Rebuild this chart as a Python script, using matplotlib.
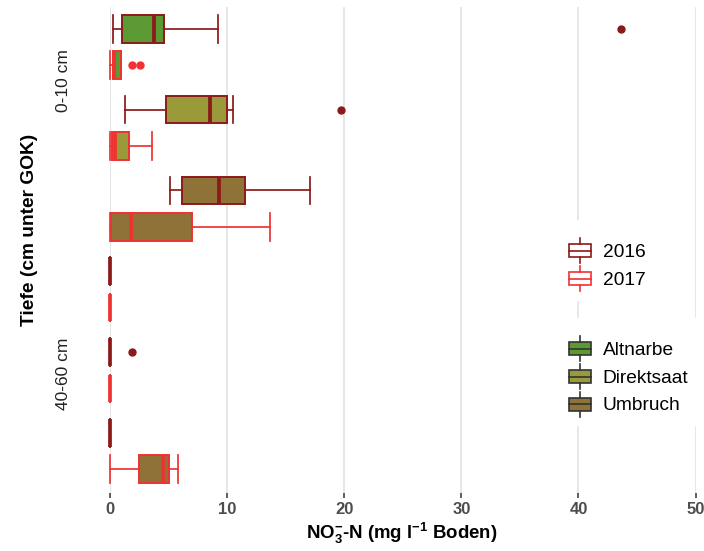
import matplotlib
matplotlib.use("Agg")
import matplotlib.pyplot as plt
from matplotlib.patches import Rectangle
from matplotlib.lines import Line2D
from matplotlib.legend_handler import HandlerBase

plt.rcParams['font.family'] = ['Liberation Sans', 'DejaVu Sans']
plt.rcParams['mathtext.fontset'] = 'custom'
plt.rcParams['mathtext.rm'] = 'Liberation Sans:bold'
plt.rcParams['mathtext.bf'] = 'Liberation Sans:bold'
plt.rcParams['mathtext.it'] = 'Liberation Sans:bold'

# ---- data ----
depths = ['0-10 cm', '40-60 cm']
treatments = ['Altnarbe', 'Direktsaat', 'Umbruch']
years = ['2016', '2017']

# order: depth -> treatment -> year
whislo = [0.26, 0.0, 1.26, 0.0, 5.10, 0.0, 0.0, 0.0, 0.0, 0.0, 0.0, 0.0]
q1 = [1.00, 0.20, 4.76, 0.14, 6.15, 0.09, 0.0, 0.0, 0.0, 0.0, 0.0, 2.45]
med = [3.70, 0.35, 8.52, 0.40, 9.32, 1.80, 0.0, 0.0, 0.0, 0.0, 0.0, 4.47]
q3 = [4.60, 0.90, 9.95, 1.62, 11.48, 6.98, 0.0, 0.0, 0.0, 0.0, 0.0, 5.02]
whishi = [9.20, 0.90, 10.46, 3.56, 17.10, 13.68, 0.0, 0.0, 0.0, 0.0, 0.0, 5.79]
fliers = [[43.6], [1.88, 2.54], [19.7], [], [], [],
          [], [], [1.83], [], [], []]

xticks = [0, 10, 20, 30, 40, 50]

fill_colors = {'Altnarbe': '#5B9A33', 'Direktsaat': '#9B9A3B', 'Umbruch': '#8F7238'}
edge_colors = {'2016': '#8B1A1A', '2017': '#F03232'}

fig = plt.figure(figsize=(7.04, 5.51), dpi=100)
ax = fig.add_axes([110.3 / 704, 58 / 551, 585.2 / 704, 486 / 551])

dodge = 0.225
box_h = 0.34
i = 0
for d_i, d in enumerate(depths):
    for t_i, t in enumerate(treatments):
        g = d_i * len(treatments) + t_i + 1
        for y_i, yr in enumerate(years):
            pos = g + (-dodge if y_i == 0 else dodge)
            stats = [dict(whislo=whislo[i], q1=q1[i], med=med[i], q3=q3[i],
                          whishi=whishi[i], fliers=fliers[i])]
            ec = edge_colors[yr]
            art = ax.bxp(stats, positions=[pos], widths=[box_h], capwidths=[box_h],
                         orientation='horizontal', patch_artist=True, showfliers=True,
                         boxprops=dict(facecolor=fill_colors[t], edgecolor=ec, linewidth=1.4),
                         medianprops=dict(color=ec, linewidth=2.7, solid_capstyle='butt'),
                         whiskerprops=dict(color=ec, linewidth=1.25),
                         capprops=dict(color=ec, linewidth=1.25),
                         flierprops=dict(marker='o', markerfacecolor=ec, markeredgecolor=ec,
                                         markersize=5, linestyle='none'),
                         manage_ticks=False)
            for key in art:
                for a in art[key]:
                    a.set_clip_on(False)
                    a.set_zorder(3)
            i += 1

ax.set_xlim(0, 50)
ax.set_ylim(6.52, 0.505)
ax.set_xticks(xticks)
ax.set_xticklabels([str(x) for x in xticks], fontsize=12, fontweight='bold', color='#4D4D4D')
ax.tick_params(axis='x', length=3.5, width=1.1, color='#333333', pad=3.0)
ax.set_yticks([1.41, 5.05])
ax.set_yticklabels(depths, rotation=90, fontsize=12.5, color='#222222', va='center')
ax.tick_params(axis='y', length=0, pad=28)
for s in ax.spines.values():
    s.set_visible(False)
ax.grid(axis='x', color='#E3E3E3', linewidth=1.2, zorder=0)
ax.set_axisbelow(True)

fig.text(402 / 704, 1 - 533 / 551,
         r'NO$_{\mathbf{3}}^{\mathbf{-}}$-N (mg l$^{\mathbf{-1}}$ Boden)',
         ha='center', va='center', fontsize=13.4, fontweight='bold')
fig.text(30 / 704, 1 - 230 / 551, 'Tiefe (cm unter GOK)', rotation=90,
         ha='center', va='center', fontsize=13.8, fontweight='bold')


class BoxHandler(HandlerBase):
    def __init__(self, face, edge):
        super().__init__()
        self.face = face
        self.edge = edge

    def create_artists(self, legend, orig_handle, xdescent, ydescent, width, height,
                       fontsize, trans):
        x0, y0 = -xdescent, -ydescent
        rb = y0 + height * 0.24
        rt = y0 + height * 0.76
        xc = x0 + width / 2
        rect = Rectangle((x0, rb), width, rt - rb, facecolor=self.face,
                         edgecolor=self.edge, linewidth=1.2, transform=trans)
        mid = Line2D([x0, x0 + width], [(rb + rt) / 2] * 2, color=self.edge,
                     linewidth=1.2, transform=trans)
        w1 = Line2D([xc, xc], [y0, rb], color=self.edge, linewidth=1.2, transform=trans)
        w2 = Line2D([xc, xc], [rt, y0 + height], color=self.edge, linewidth=1.2,
                    transform=trans)
        return [rect, mid, w1, w2]


fs_pt = 13.8
fs_px = fs_pt * 100 / 72
leg_kw = dict(fontsize=fs_pt, frameon=True, framealpha=1, edgecolor='white',
              fancybox=False, handlelength=22 / fs_px, handleheight=1.63,
              handletextpad=0.6, labelspacing=2.7 / fs_px, borderpad=0.45,
              borderaxespad=0, loc='upper left', title=' ', title_fontsize=6)

x_anchor = (569 - 0.45 * fs_px) / 704

yr_handles = [Rectangle((0, 0), 1, 1) for _ in years]
yr_map = {h: BoxHandler('white', edge_colors[yr]) for h, yr in zip(yr_handles, years)}
leg1 = ax.legend(yr_handles, years, handler_map=yr_map,
                 bbox_to_anchor=(x_anchor, 1 - 220 / 551),
                 bbox_transform=fig.transFigure, **leg_kw)
ax.add_artist(leg1)

tr_handles = [Rectangle((0, 0), 1, 1) for _ in treatments]
tr_map = {h: BoxHandler(fill_colors[t], '#333333') for h, t in zip(tr_handles, treatments)}
leg2 = ax.legend(tr_handles, treatments, handler_map=tr_map,
                 bbox_to_anchor=(x_anchor, 1 - 318 / 551),
                 bbox_transform=fig.transFigure, **leg_kw)

fig.savefig('out.png', dpi=100)
